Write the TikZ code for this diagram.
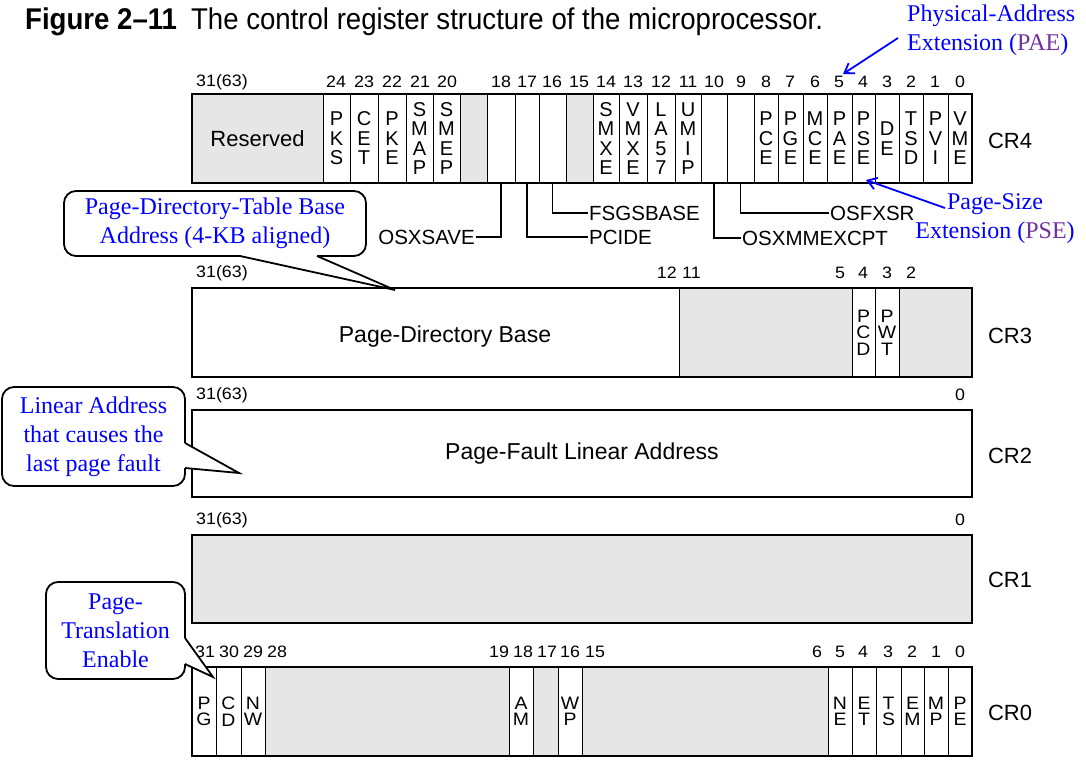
\documentclass[tikz,border=0pt]{standalone}
\usepackage{fontspec}
\setmainfont{Liberation Sans}
\newfontfamily\callfont{Liberation Serif}
\newfontfamily\widefont{Liberation Sans}[FakeStretch=1.08]
\newfontfamily\titlefont{Liberation Sans}[FakeStretch=0.92]
\usetikzlibrary{arrows.meta,calc}
\definecolor{regGray}{HTML}{E6E6E6}
\definecolor{callBlue}{HTML}{0000FF}
\definecolor{callPurple}{HTML}{7030A0}
\newcommand\fs[2]{\fontsize{#1}{#2}\selectfont}
\newcommand\regfield[7]{%
  \node[#6, minimum width={(#3-#2)*1pt}, minimum height={(#5-#4)*1pt}] (#1) at ({(#2+#3)/2},{(#4+#5)/2}) {#7};}
\begin{document}
\begin{tikzpicture}[x=1pt,y=-1pt,
  fld/.style={draw=black, line width=1pt, inner sep=0pt, outer sep=0pt, align=center, fill=white},
  gfld/.style={fld, fill=regGray},
  regframe/.style={draw=black, line width=2.4pt, inner sep=0pt, outer sep=0pt},
  bitno/.style={font=\widefont\fs{16.5}{16.5}, inner sep=0pt},
  ltrA/.style={font=\fs{20}{19.5}, text depth=0pt},
  ltrB/.style={font=\widefont\fs{18}{16.5}},
  reglbl/.style={font=\fs{22}{22}, inner sep=0pt},
  bigtxt/.style={font=\fs{23}{23}, inner sep=0pt},
  flag/.style={font=\fs{20.5}{20.5}, inner sep=1pt},
  leader/.style={draw=black, line width=1.3pt},
  callbox/.style={draw=black, line width=1.8pt, rounded corners=12pt, fill=white, inner sep=0pt, font=\callfont\fs{24}{29}, text=callBlue, align=center},
  ptrline/.style={draw=black, line width=1.8pt, line join=miter},
  note/.style={font=\callfont\fs{24}{29}, text=callBlue, inner sep=0pt},
  notearrow/.style={draw=callBlue, line width=1.8pt, -{Straight Barb[length=9pt,width=12pt]}},
]
\useasboundingbox (0,0) rectangle (1086,775);

% Title
\node[anchor=west, inner sep=0pt, font=\titlefont\fs{30}{30}] (title) at (25,22) {\textbf{Figure 2\textendash 11}\hspace{14pt}The control register structure of the microprocessor.};

% ---------------- CR4 ----------------
\regfield{c4f31}{192}{323}{94}{183}{gfld, font=\fs{22}{22}}{Reserved}
\regfield{c4f24}{323}{350}{94}{183}{fld, ltrA}{P\\K\\S}
\regfield{c4f23}{350}{378}{94}{183}{fld, ltrA}{C\\E\\T}
\regfield{c4f22}{378}{406}{94}{183}{fld, ltrA}{P\\K\\E}
\regfield{c4f21}{406}{433}{94}{183}{fld, ltrA}{S\\M\\A\\P}
\regfield{c4f20}{433}{460}{94}{183}{fld, ltrA}{S\\M\\E\\P}
\regfield{c4f19}{460}{487}{94}{183}{gfld}{}
\regfield{c4f18}{487}{515}{94}{183}{fld}{}
\regfield{c4f17}{515}{539}{94}{183}{fld}{}
\regfield{c4f16}{539}{566}{94}{183}{fld}{}
\regfield{c4f15}{566}{593}{94}{183}{gfld}{}
\regfield{c4f14}{593}{619}{94}{183}{fld, ltrA}{S\\M\\X\\E}
\regfield{c4f13}{619}{647}{94}{183}{fld, ltrA}{V\\M\\X\\E}
\regfield{c4f12}{647}{675}{94}{183}{fld, ltrA}{L\\A\\5\\7}
\regfield{c4f11}{675}{701}{94}{183}{fld, ltrA}{U\\M\\I\\P}
\regfield{c4f10}{701}{727}{94}{183}{fld}{}
\regfield{c4f9}{727}{754}{94}{183}{fld}{}
\regfield{c4f8}{754}{778}{94}{183}{fld, ltrA}{P\\C\\E}
\regfield{c4f7}{778}{803}{94}{183}{fld, ltrA}{P\\G\\E}
\regfield{c4f6}{803}{827}{94}{183}{fld, ltrA}{M\\C\\E}
\regfield{c4f5}{827}{852}{94}{183}{fld, ltrA}{P\\A\\E}
\regfield{c4f4}{852}{875}{94}{183}{fld, ltrA}{P\\S\\E}
\regfield{c4f3}{875}{899}{94}{183}{fld, ltrA}{D\\E}
\regfield{c4f2}{899}{923}{94}{183}{fld, ltrA}{T\\S\\D}
\regfield{c4f1}{923}{948}{94}{183}{fld, ltrA}{P\\V\\I}
\regfield{c4f0}{948}{972}{94}{183}{fld, ltrA}{V\\M\\E}
\regfield{cr4}{192}{972}{94}{183}{regframe}{}
\node[reglbl] (cr4lbl) at (1010,141) {CR4};
\foreach \x/\t [count=\k] in {222/31(63),336/24,364/23,392/22,420/21,447/20,501/18,527/17,552/16,579/15,606/14,633/13,661/12,688/11,714/10,741/9,766/8,790/7,815/6,839/5,863/4,887/3,911/2,935/1,960/0}
  \node[bitno] (b4-\k) at (\x,82) {\t};

% leaders
\node[flag, anchor=east] (osxsave) at (476,237) {OSXSAVE};
\node[flag, anchor=west] (pcide) at (588,237) {PCIDE};
\node[flag, anchor=west] (fsgsbase) at (588,213) {FSGSBASE};
\node[flag, anchor=west] (osxmm) at (741,238) {OSXMMEXCPT};
\node[flag, anchor=west] (osfxsr) at (829,213) {OSFXSR};
\draw[leader] (c4f18.south) |- (osxsave.east);
\draw[leader] (c4f17.south) |- (pcide.west);
\draw[leader] (c4f16.south) |- (fsgsbase.west);
\draw[leader] (c4f10.south) |- (osxmm.west);
\draw[leader] (c4f9.south) |- (osfxsr.west);

% ---------------- CR3 ----------------
\regfield{c3f31}{192}{679}{288}{377}{fld}{}
\node[bigtxt] (pdbase) at (445,337) {Page-Directory Base};
\regfield{c3f11}{679}{852}{288}{377}{gfld}{}
\regfield{c3f4}{852}{875}{288}{377}{fld, ltrB}{P\\C\\D}
\regfield{c3f3}{875}{899}{288}{377}{fld, ltrB}{P\\W\\T}
\regfield{c3f2}{899}{972}{288}{377}{gfld}{}
\regfield{cr3}{192}{972}{288}{377}{regframe}{}
\node[reglbl] (cr3lbl) at (1010,336) {CR3};
\node[bitno] (b3-31) at (222,273) {31(63)};
\node[bitno, anchor=east] (b3-12) at (677,273) {12};
\node[bitno, anchor=west] (b3-11) at (682,273) {11};
\node[bitno] (b3-5) at (840,273) {5};
\node[bitno] (b3-4) at (863,273) {4};
\node[bitno] (b3-3) at (887,273) {3};
\node[bitno] (b3-2) at (911,273) {2};

% ---------------- CR2 ----------------
\regfield{cr2f}{192}{972}{410}{497}{fld, bigtxt}{Page-Fault Linear Address}
\regfield{cr2}{192}{972}{410}{497}{regframe}{}
\node[reglbl] (cr2lbl) at (1010,456) {CR2};
\node[bitno] (b2-31) at (222,395) {31(63)};
\node[bitno] (b2-0) at (960,395) {0};

% ---------------- CR1 ----------------
\regfield{cr1f}{192}{972}{535}{623}{gfld}{}
\regfield{cr1}{192}{972}{535}{623}{regframe}{}
\node[reglbl] (cr1lbl) at (1010,580) {CR1};
\node[bitno] (b1-31) at (222,520) {31(63)};
\node[bitno] (b1-0) at (960,520) {0};

% ---------------- CR0 ----------------
\regfield{c0f31}{192}{216}{667}{756}{fld, ltrB}{P\\G}
\regfield{c0f30}{216}{241}{667}{756}{fld, ltrB}{C\\D}
\regfield{c0f29}{241}{265}{667}{756}{fld, ltrB}{N\\W}
\regfield{c0f28}{265}{509}{667}{756}{gfld}{}
\regfield{c0f18}{509}{533}{667}{756}{fld, ltrB}{A\\M}
\regfield{c0f17}{533}{558}{667}{756}{gfld}{}
\regfield{c0f16}{558}{582}{667}{756}{fld, ltrB}{W\\P}
\regfield{c0f15}{582}{828}{667}{756}{gfld}{}
\regfield{c0f5}{828}{852}{667}{756}{fld, ltrB}{N\\E}
\regfield{c0f4}{852}{876}{667}{756}{fld, ltrB}{E\\T}
\regfield{c0f3}{876}{901}{667}{756}{fld, ltrB}{T\\S}
\regfield{c0f2}{901}{924}{667}{756}{fld, ltrB}{E\\M}
\regfield{c0f1}{924}{948}{667}{756}{fld, ltrB}{M\\P}
\regfield{c0f0}{948}{972}{667}{756}{fld, ltrB}{P\\E}
\regfield{cr0}{192}{972}{667}{756}{regframe}{}
\node[reglbl] (cr0lbl) at (1010,713) {CR0};
\foreach \x/\t [count=\k] in {205/31,229/30,253/29,277/28,499/19,523/18,547/17,570/16,595/15,817/6,840/5,863/4,888/3,912/2,936/1,960/0}
  \node[bitno] (b0-\k) at (\x,652) {\t};

% ---------------- notes with arrows ----------------
\node[note, align=left, anchor=west] (pae) at (907,30) {Physical-Address\\Extension (\textcolor{callPurple}{PAE})};
\coordinate (paefrom) at (898,38);
\coordinate (paetip) at (843,74);
\draw[notearrow] (paefrom) -- (paetip);
\node[note, align=center] (pse) at (995,219) {Page-Size\\Extension (\textcolor{callPurple}{PSE})};
\coordinate (psefrom) at (945,208);
\coordinate (psetip) at (866,180);
\draw[notearrow] (psefrom) -- (psetip);

% ---------------- callouts ----------------
\node[callbox, minimum width=302pt, minimum height=65pt] (pdt) at (215,223.5) {Page-Directory-Table Base\\Address (4-KB aligned)};
\coordinate (pdtA) at (240,256);
\coordinate (pdtB) at (317,256);
\coordinate (pdtTip) at (395,290);
\fill[white] ($(pdtA)+(0,-3)$) -- (pdtA) -- (pdtTip) -- (pdtB) -- ($(pdtB)+(0,-3)$) -- cycle;
\draw[ptrline] (pdtA) -- (pdtTip) -- (pdtB);

\node[callbox, minimum width=183pt, minimum height=99pt] (lin) at (93.5,436.5) {Linear Address\\that causes the\\last page fault};
\coordinate (linA) at (185,443);
\coordinate (linB) at (185,468);
\coordinate (linTip) at (239,473);
\fill[white] ($(linA)+(-3,0)$) -- (linA) -- (linTip) -- (linB) -- ($(linB)+(-3,0)$) -- cycle;
\draw[ptrline] (linA) -- (linTip) -- (linB);

\node[callbox, minimum width=139pt, minimum height=97pt] (pte) at (115.5,630.5) {Page-\\Translation\\Enable};
\coordinate (pteA) at (185,638);
\coordinate (pteB) at (185,664);
\coordinate (pteTip) at (213,677);
\fill[white] ($(pteA)+(-3,0)$) -- (pteA) -- (pteTip) -- (pteB) -- ($(pteB)+(-3,0)$) -- cycle;
\draw[ptrline] (pteA) -- (pteTip) -- (pteB);
\end{tikzpicture}
\end{document}
